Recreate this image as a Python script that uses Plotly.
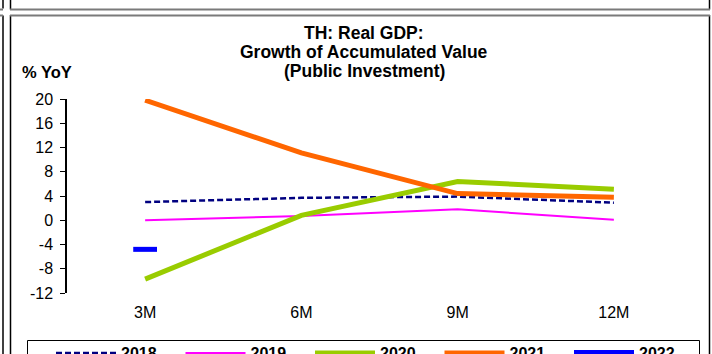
import plotly.graph_objects as go

periods = ["3M", "6M", "9M", "12M"]
y2018 = [3.0, 3.7, 3.9, 2.9]
y2019 = [0.0, 0.7, 1.8, 0.1]
y2020 = [-9.7, 0.8, 6.4, 5.1]
y2021 = [19.8, 11.1, 4.4, 3.8]
y2022 = [-4.8, None, None, None]
y_ticks = [20, 16, 12, 8, 4, 0, -4, -8, -12]
y_tick_labels = ["20", "16", "12", "8", "4", "0", "-4", "-8", "-12"]
title_lines = ["TH: Real GDP:", "Growth of Accumulated Value", "(Public Investment)"]

W, H = 712, 354
ML, MR, MT, MB = 67, 20, 99, 61
PW, PH = W - ML - MR, H - MT - MB

def px(x):
    return (x - ML) / PW

def py(y):
    return (H - MB - y) / PH

FONT = "Liberation Sans, Arial, sans-serif"

fig = go.Figure()
fig.add_trace(go.Scatter(x=periods, y=y2018, name="2018", mode="lines",
                         line=dict(color="#000080", width=2.5, dash="6px,3px")))
fig.add_trace(go.Scatter(x=periods, y=y2019, name="2019", mode="lines",
                         line=dict(color="#FF00FF", width=2)))
fig.add_trace(go.Scatter(x=periods, y=y2020, name="2020", mode="lines",
                         line=dict(color="#99CC00", width=5)))
fig.add_trace(go.Scatter(x=periods, y=y2021, name="2021", mode="lines",
                         line=dict(color="#FF6600", width=5)))
fig.add_trace(go.Scatter(x=periods, y=y2022, name="2022", mode="lines+markers",
                         line=dict(color="#0000FF", width=6),
                         marker=dict(symbol="line-ew", size=17, color="#0000FF",
                                     line=dict(color="#0000FF", width=5))))

# frame shapes (decoration)
def hline(x0, x1, y, color, width):
    fig.add_shape(type="line", xref="paper", yref="paper",
                  x0=px(x0), x1=px(x1), y0=py(y), y1=py(y),
                  line=dict(color=color, width=width), layer="above")

def vline(x, y0, y1, color, width):
    fig.add_shape(type="line", xref="paper", yref="paper",
                  x0=px(x), x1=px(x), y0=py(y0), y1=py(y1),
                  line=dict(color=color, width=width), layer="above")

vline(3, 0, 8.5, "black", 1.5)
vline(3, 15.5, 354, "black", 1.5)
vline(10.5, 0, 9.5, "black", 1.5)
vline(10.5, 15, 354, "black", 1.5)
vline(709.5, 0, 9.5, "black", 1.5)
vline(709.5, 15, 354, "black", 1.5)
hline(10, 710, 9.5, "#7a7a7a", 2)
hline(10, 710, 15.5, "#7a7a7a", 2)
hline(0, 3, 9.5, "#7a7a7a", 2)
hline(0, 3, 15.5, "#7a7a7a", 2)
# legend box
fig.add_shape(type="rect", xref="paper", yref="paper",
              x0=px(27.5), x1=px(699.5), y0=py(340.5), y1=py(370),
              line=dict(color="black", width=1), layer="above")

for txt, yc in zip(title_lines, [32.5, 51.5, 70.5]):
    fig.add_annotation(xref="paper", yref="paper", x=px(364), y=py(yc),
                       text="<b>" + txt + "</b>", showarrow=False,
                       xanchor="center", yanchor="middle",
                       font=dict(family=FONT, size=17.5, color="black"))
fig.add_annotation(xref="paper", yref="paper", x=px(20), y=py(72),
                   text="<b>% YoY</b>", showarrow=False, xanchor="left", yanchor="middle",
                   font=dict(family=FONT, size=16.5, color="black"))

fig.update_layout(
    width=W, height=H,
    margin=dict(l=ML, r=MR, t=MT, b=MB, pad=0, autoexpand=False),
    paper_bgcolor="white", plot_bgcolor="white",
    font=dict(family=FONT, size=16, color="black"),
    showlegend=True,
    legend=dict(orientation="h", x=px(51), y=py(336), xanchor="left", yanchor="top",
                borderwidth=0, bgcolor="rgba(0,0,0,0)",
                font=dict(family=FONT, size=16, color="black", weight="bold"),
                entrywidth=54.5, entrywidthmode="pixels", itemwidth=60,
                traceorder="normal"),
    xaxis=dict(type="category", categoryorder="array", categoryarray=periods,
               range=[-0.5, 3.5], showline=False, showgrid=False, zeroline=False,
               ticks="", tickfont=dict(family=FONT, size=16), ticklabelstandoff=8),
    xaxis2=dict(overlaying="x", anchor="free", position=12 / 32, range=[-0.5, 3.5],
                showline=True, linecolor="black", linewidth=1.5, showgrid=False,
                zeroline=False, ticks="outside", ticklen=5, tickcolor="black",
                tickvals=[0.5, 1.5, 2.5, 3.5], showticklabels=False),
    yaxis=dict(range=[-12, 20], tickvals=y_ticks, ticktext=y_tick_labels,
               showline=True, linecolor="black",
               linewidth=1.5, ticks="outside", ticklen=5, tickcolor="black",
               showgrid=False, zeroline=False, tickfont=dict(family=FONT, size=16),
               ticklabelstandoff=4),
)

fig.write_html("out.html", config={"displayModeBar": False},
               post_script="document.body.style.margin='0';document.body.style.overflow='hidden';")
